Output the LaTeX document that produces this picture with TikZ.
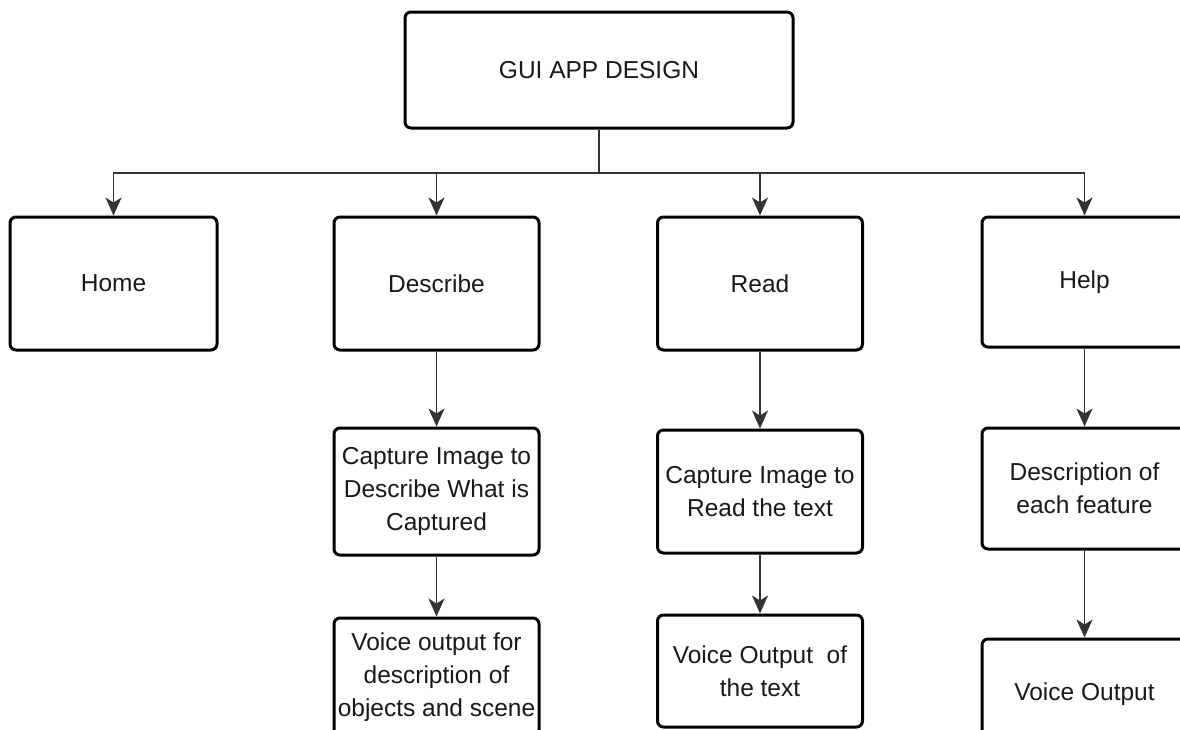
\documentclass[tikz,border=0pt]{standalone}
\usepackage{fontspec}
\setmainfont{Liberation Sans}
\usetikzlibrary{arrows.meta}
\begin{document}
\begin{tikzpicture}[x=1pt,y=-1pt,
  box/.style={draw=black, line width=3pt, rounded corners=6pt, fill=white,
    text=black!90, align=center, inner sep=0pt,
    font=\fontsize{24.5}{33}\selectfont},
  link/.style={draw=black!80, line width=1.7pt},
  arr/.style={link, -{Stealth[length=18pt, width=16pt, inset=5pt]}}
]
\useasboundingbox (0,0) rectangle (1180,729);
\clip (0,0) rectangle (1180,729);

\node[box, minimum width=388pt, minimum height=116pt] (top) at (599,70) {GUI APP DESIGN};

\node[box, minimum width=207pt, minimum height=133pt] (home) at (113.5,283.5) {Home};
\node[box, minimum width=205pt, minimum height=133pt] (desc) at (436.5,283.5) {Describe};
\node[box, minimum width=205pt, minimum height=133pt] (read) at (760,283.5) {Read};
\node[box, minimum width=205pt, minimum height=130pt] (help) at (1084.5,282) {Help};

\node[box, minimum width=205pt, minimum height=127pt] (desc2) at (436.5,491.5) {Capture Image to\\Describe What is\\Captured};
\node[box, minimum width=205pt, minimum height=123pt] (read2) at (760,491.5) {Capture Image to\\Read the text};
\node[box, minimum width=205pt, minimum height=121pt] (help2) at (1084.5,488.5) {Description of\\each feature};

\node[box, minimum width=205pt, minimum height=118pt] (desc3) at (436.5,677) {Voice output for\\description of\\objects and scene};
\node[box, minimum width=205pt, minimum height=112pt] (read3) at (760,671) {Voice Output~ of\\the text};
\node[box, minimum width=205pt, minimum height=110pt] (help3) at (1084.5,694) {Voice Output};

\coordinate (bus) at (599,173);
\draw[link] (top.south) -- (bus);
\draw[arr] (bus) -| (home.north);
\draw[arr] (bus) -| (desc.north);
\draw[arr] (bus) -| (read.north);
\draw[arr] (bus) -| (help.north);

\draw[arr] (desc.south) -- (desc2.north);
\draw[arr] (read.south) -- (read2.north);
\draw[arr] (help.south) -- (help2.north);
\draw[arr] (desc2.south) -- (desc3.north);
\draw[arr] (read2.south) -- (read3.north);
\draw[arr] (help2.south) -- (help3.north);
\end{tikzpicture}
\end{document}
